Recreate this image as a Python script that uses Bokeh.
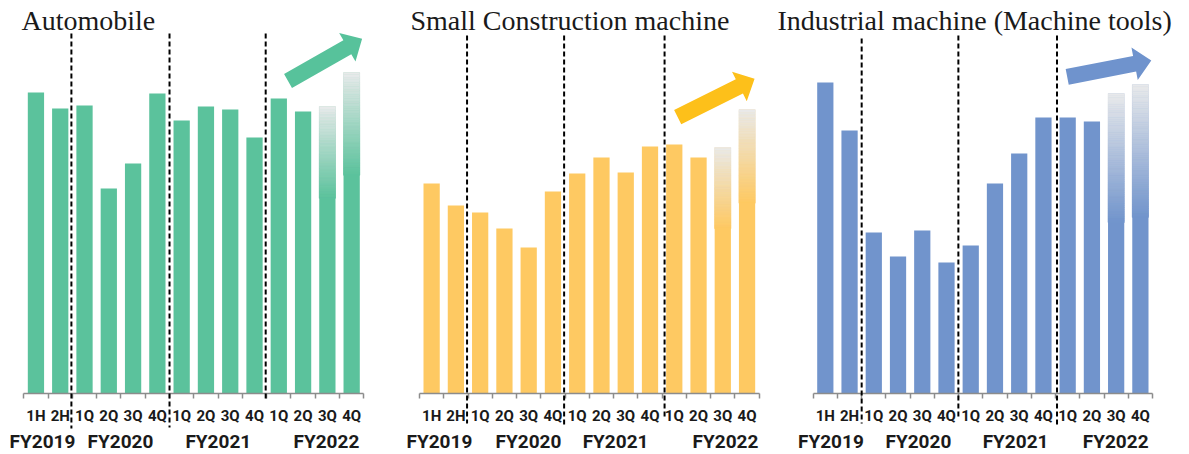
import math
from bokeh.plotting import figure
from bokeh.models import Range1d, FixedTicker, LinearAxis, ColumnDataSource, Arrow
from bokeh.layouts import row
from bokeh.embed import file_html
from bokeh.resources import INLINE
from bokeh.core.properties import value

# ---------------- data ----------------
period_labels = ["1H", "2H", "1Q", "2Q", "3Q", "4Q", "1Q", "2Q", "3Q", "4Q", "1Q", "2Q", "3Q", "4Q"]
fy_labels = ["FY2019", "FY2020", "FY2021", "FY2022"]
titles = ["Automobile", "Small Construction machine", "Industrial machine (Machine tools)"]
automobile = [301, 285, 288, 205, 230, 300, 273, 287, 284, 256, 295, 282, 287, 321]
small_construction = [210, 188, 181, 165, 146, 202, 220, 236, 221, 247, 249, 236, 246, 284]
industrial = [311, 263, 161, 137, 163, 131, 148, 210, 240, 276, 276, 272, 300, 309]
n_outlook = 2  # last bars are outlook (faded)

# ---------------- layout / style ----------------
CANVAS_H = 454
AXIS_Y = 393          # canvas y of the baseline
Y_TOP = AXIS_Y
Y_BOTTOM = AXIS_Y - CANVAS_H
TOP_GREY = (233, 234, 235)
LABEL_FONT = "Roboto"
TITLE_FONT = "Liberation Serif"
TITLE_Y = 373.5

panels = [
    dict(values=automobile, title=titles[0], color="#5bc29c", arrow_color="#57c29b", grad=0.32,
         width=400, axis_left=23.3, ppu=24.286, title_px=21,
         fy_ticks=[0.27, 3.48, 7.51, 11.96],
         dividers=[(1.46, 360, -35), (5.5, 360, -34), (9.46, 360, -7)],
         arrow=((10.38, 312.5), (13.43, 354.7))),
    dict(values=small_construction, title=titles[1], color="#fec962", arrow_color="#fdc01a", grad=0.33,
         width=372, axis_left=19.0, ppu=24.264, title_px=10,
         fy_ticks=[0.32, 3.99, 7.58, 12.11],
         dividers=[(1.46, 358, -30), (5.46, 358, -34), (9.6, 358, -24)],
         arrow=((10.14, 276.3), (13.31, 314.7))),
    dict(values=industrial, title=titles[2], color="#7194cc", arrow_color="#6f93cd", grad=0.43,
         width=417, axis_left=40.7, ppu=24.236, title_px=5,
         fy_ticks=[0.23, 3.84, 7.85, 11.98],
         dividers=[(1.5, 355, -30), (5.49, 358, -24), (9.56, 358, -34)],
         arrow=((9.98, 316.7), (13.45, 333.0))),
]


def hex_to_rgb(h):
    h = h.lstrip("#")
    return tuple(int(h[i:i + 2], 16) for i in (0, 2, 4))


def mix(c1, c2, t):
    return "#%02x%02x%02x" % tuple(int(round(a + (b - a) * t)) for a, b in zip(c1, c2))


def block_arrow(p, tail, tip, ppu, color, shaft_w=16, head_w=33, head_len=17):
    tx, ty = tail[0] * ppu, tail[1]
    hx, hy = tip[0] * ppu, tip[1]
    dx, dy = hx - tx, hy - ty
    L = math.hypot(dx, dy)
    ux, uy = dx / L, dy / L
    nx, ny = -uy, ux
    bx, by = hx - ux * head_len, hy - uy * head_len
    pts = [
        (tx + nx * shaft_w / 2, ty + ny * shaft_w / 2),
        (bx + nx * shaft_w / 2, by + ny * shaft_w / 2),
        (bx + nx * head_w / 2, by + ny * head_w / 2),
        (hx, hy),
        (bx - nx * head_w / 2, by - ny * head_w / 2),
        (bx - nx * shaft_w / 2, by - ny * shaft_w / 2),
        (tx - nx * shaft_w / 2, ty - ny * shaft_w / 2),
    ]
    p.patch([q[0] / ppu for q in pts], [q[1] for q in pts], fill_color=color, line_color=None)


figs = []
for cfg in panels:
    vals = cfg["values"]
    n = len(vals)
    ppu = cfg["ppu"]
    x0 = -0.5 - cfg["axis_left"] / ppu
    x1 = x0 + cfg["width"] / ppu
    p = figure(frame_width=cfg["width"], frame_height=CANVAS_H,
               x_range=Range1d(x0, x1), y_range=Range1d(Y_BOTTOM, Y_TOP),
               output_backend="svg", toolbar_location=None, y_axis_location=None,
               min_border_left=0, min_border_right=0, min_border_top=0, min_border_bottom=0)
    p.xgrid.visible = False
    p.ygrid.visible = False
    p.outline_line_color = None
    p.background_fill_color = "white"
    p.border_fill_color = "white"

    xs = list(range(n))
    solid_n = n - n_outlook
    p.vbar(x=xs, top=vals, width=0.67, fill_color=cfg["color"], line_color=None)

    # faded outlook bars: overlay slices
    base = hex_to_rgb(cfg["color"])
    sx, sb, st, sc = [], [], [], []
    steps = 60
    for i in range(solid_n, n):
        v = vals[i]
        g0 = v * (1 - cfg["grad"])
        for k in range(steps):
            b = g0 + (v - g0) * k / steps
            t = g0 + (v - g0) * (k + 1) / steps
            sx.append(i)
            sb.append(b)
            st.append(t)
            sc.append(mix(base, TOP_GREY, (k + 0.5) / steps))
    src = ColumnDataSource(dict(x=sx, bottom=sb, top=st, color=sc))
    p.vbar(x="x", bottom="bottom", top="top", width=0.67, fill_color="color", line_color="color",
           line_width=0.6, source=src)

    # dashed fiscal-year dividers
    for (dxv, ytop, ybot) in cfg["dividers"]:
        p.add_layout(Arrow(end=None, x_start=dxv, y_start=ytop, x_end=dxv, y_end=ybot,
                           line_color="black", line_width=2, line_dash="5 3"))

    # trend arrow
    block_arrow(p, cfg["arrow"][0], cfg["arrow"][1], ppu, cfg["arrow_color"])

    # title
    p.text(x=[x0 + cfg["title_px"] / ppu], y=[TITLE_Y], text=[cfg["title"]],
           text_font=value(TITLE_FONT), text_font_size="28px", text_color="#1a1a1a",
           text_align="left", text_baseline="alphabetic")

    ax = p.xaxis[0]
    ax.fixed_location = 0
    ax.ticker = FixedTicker(ticks=xs, minor_ticks=[i - 0.5 for i in range(n + 1)])
    ax.major_label_overrides = {i: lab for i, lab in enumerate(period_labels)}
    ax.bounds = (-0.5, n - 0.5)
    ax.axis_line_color = "#8c8c8c"
    ax.axis_line_width = 1.5
    ax.major_tick_out = 0
    ax.major_tick_in = 0
    ax.minor_tick_out = 5
    ax.minor_tick_in = 0
    ax.minor_tick_line_color = "#8c8c8c"
    ax.minor_tick_line_width = 1.5
    ax.major_label_text_font = LABEL_FONT
    ax.major_label_text_font_style = "bold"
    ax.major_label_text_font_size = "15px"
    ax.major_label_text_color = "#1a1a1a"
    ax.major_label_standoff = 8

    fy_ax = LinearAxis(ticker=FixedTicker(ticks=cfg["fy_ticks"]),
                       fixed_location=0,
                       major_label_overrides={t: lab for t, lab in zip(cfg["fy_ticks"], fy_labels)},
                       axis_line_color=None, major_tick_line_color=None, minor_tick_line_color=None,
                       major_tick_out=0, major_tick_in=0, minor_tick_out=0, minor_tick_in=0,
                       major_label_text_font=LABEL_FONT, major_label_text_font_style="bold",
                       major_label_text_font_size="19px", major_label_text_color="#1a1a1a",
                       major_label_standoff=36)
    p.add_layout(fy_ax, "below")
    figs.append(p)

layout = row(*figs, spacing=0)
open("out.html", "w").write(file_html(layout, INLINE))
